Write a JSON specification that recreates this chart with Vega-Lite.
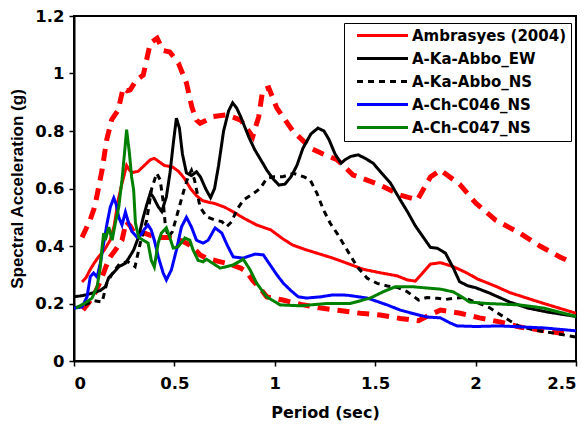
{
  "$schema": "https://vega.github.io/schema/vega-lite/v6.json",
  "width": 502,
  "height": 345,
  "autosize": {"type": "none"},
  "padding": {"left": 74, "top": 16, "right": 11, "bottom": 71},
  "background": "white",
  "datasets": {
    "main": [
      {"series":"Ambrasyes (2004)","period":0.04,"sa":0.275},{"series":"Ambrasyes (2004)","period":0.06,"sa":0.29},{"series":"Ambrasyes (2004)","period":0.08,"sa":0.317},{"series":"Ambrasyes (2004)","period":0.1,"sa":0.34},{"series":"Ambrasyes (2004)","period":0.12,"sa":0.36},{"series":"Ambrasyes (2004)","period":0.15,"sa":0.385},{"series":"Ambrasyes (2004)","period":0.18,"sa":0.42},{"series":"Ambrasyes (2004)","period":0.2,"sa":0.47},{"series":"Ambrasyes (2004)","period":0.22,"sa":0.56},{"series":"Ambrasyes (2004)","period":0.24,"sa":0.62},{"series":"Ambrasyes (2004)","period":0.262,"sa":0.68},{"series":"Ambrasyes (2004)","period":0.275,"sa":0.665},{"series":"Ambrasyes (2004)","period":0.29,"sa":0.655},{"series":"Ambrasyes (2004)","period":0.32,"sa":0.66},{"series":"Ambrasyes (2004)","period":0.35,"sa":0.68},{"series":"Ambrasyes (2004)","period":0.38,"sa":0.7},{"series":"Ambrasyes (2004)","period":0.4,"sa":0.705},{"series":"Ambrasyes (2004)","period":0.42,"sa":0.695},{"series":"Ambrasyes (2004)","period":0.45,"sa":0.68},{"series":"Ambrasyes (2004)","period":0.49,"sa":0.675},{"series":"Ambrasyes (2004)","period":0.52,"sa":0.66},{"series":"Ambrasyes (2004)","period":0.55,"sa":0.635},{"series":"Ambrasyes (2004)","period":0.58,"sa":0.6},{"series":"Ambrasyes (2004)","period":0.61,"sa":0.575},{"series":"Ambrasyes (2004)","period":0.64,"sa":0.558},{"series":"Ambrasyes (2004)","period":0.67,"sa":0.552},{"series":"Ambrasyes (2004)","period":0.7,"sa":0.548},{"series":"Ambrasyes (2004)","period":0.75,"sa":0.535},{"series":"Ambrasyes (2004)","period":0.79,"sa":0.52},{"series":"Ambrasyes (2004)","period":0.85,"sa":0.495},{"series":"Ambrasyes (2004)","period":0.91,"sa":0.473},{"series":"Ambrasyes (2004)","period":0.98,"sa":0.456},{"series":"Ambrasyes (2004)","period":1.04,"sa":0.425},{"series":"Ambrasyes (2004)","period":1.09,"sa":0.403},{"series":"Ambrasyes (2004)","period":1.15,"sa":0.388},{"series":"Ambrasyes (2004)","period":1.21,"sa":0.375},{"series":"Ambrasyes (2004)","period":1.28,"sa":0.36},{"series":"Ambrasyes (2004)","period":1.36,"sa":0.34},{"series":"Ambrasyes (2004)","period":1.44,"sa":0.319},{"series":"Ambrasyes (2004)","period":1.525,"sa":0.307},{"series":"Ambrasyes (2004)","period":1.61,"sa":0.296},{"series":"Ambrasyes (2004)","period":1.66,"sa":0.282},{"series":"Ambrasyes (2004)","period":1.7,"sa":0.278},{"series":"Ambrasyes (2004)","period":1.735,"sa":0.305},{"series":"Ambrasyes (2004)","period":1.775,"sa":0.337},{"series":"Ambrasyes (2004)","period":1.825,"sa":0.342},{"series":"Ambrasyes (2004)","period":1.89,"sa":0.328},{"series":"Ambrasyes (2004)","period":1.96,"sa":0.305},{"series":"Ambrasyes (2004)","period":2.01,"sa":0.285},{"series":"Ambrasyes (2004)","period":2.1,"sa":0.26},{"series":"Ambrasyes (2004)","period":2.17,"sa":0.238},{"series":"Ambrasyes (2004)","period":2.25,"sa":0.22},{"series":"Ambrasyes (2004)","period":2.34,"sa":0.2},{"series":"Ambrasyes (2004)","period":2.42,"sa":0.183},{"series":"Ambrasyes (2004)","period":2.5,"sa":0.166},

      {"series":"A-Ka-Abbo_EW","period":0,"sa":0.224},{"series":"A-Ka-Abbo_EW","period":0.03,"sa":0.226},{"series":"A-Ka-Abbo_EW","period":0.06,"sa":0.23},{"series":"A-Ka-Abbo_EW","period":0.1,"sa":0.238},{"series":"A-Ka-Abbo_EW","period":0.13,"sa":0.245},{"series":"A-Ka-Abbo_EW","period":0.156,"sa":0.258},{"series":"A-Ka-Abbo_EW","period":0.173,"sa":0.29},{"series":"A-Ka-Abbo_EW","period":0.2,"sa":0.31},{"series":"A-Ka-Abbo_EW","period":0.223,"sa":0.328},{"series":"A-Ka-Abbo_EW","period":0.256,"sa":0.34},{"series":"A-Ka-Abbo_EW","period":0.272,"sa":0.357},{"series":"A-Ka-Abbo_EW","period":0.297,"sa":0.386},{"series":"A-Ka-Abbo_EW","period":0.322,"sa":0.432},{"series":"A-Ka-Abbo_EW","period":0.345,"sa":0.5},{"series":"A-Ka-Abbo_EW","period":0.365,"sa":0.55},{"series":"A-Ka-Abbo_EW","period":0.38,"sa":0.584},{"series":"A-Ka-Abbo_EW","period":0.395,"sa":0.57},{"series":"A-Ka-Abbo_EW","period":0.42,"sa":0.536},{"series":"A-Ka-Abbo_EW","period":0.437,"sa":0.52},{"series":"A-Ka-Abbo_EW","period":0.46,"sa":0.571},{"series":"A-Ka-Abbo_EW","period":0.478,"sa":0.654},{"series":"A-Ka-Abbo_EW","period":0.495,"sa":0.76},{"series":"A-Ka-Abbo_EW","period":0.51,"sa":0.845},{"series":"A-Ka-Abbo_EW","period":0.525,"sa":0.81},{"series":"A-Ka-Abbo_EW","period":0.54,"sa":0.72},{"series":"A-Ka-Abbo_EW","period":0.56,"sa":0.654},{"series":"A-Ka-Abbo_EW","period":0.585,"sa":0.645},{"series":"A-Ka-Abbo_EW","period":0.61,"sa":0.658},{"series":"A-Ka-Abbo_EW","period":0.63,"sa":0.64},{"series":"A-Ka-Abbo_EW","period":0.655,"sa":0.6},{"series":"A-Ka-Abbo_EW","period":0.68,"sa":0.568},{"series":"A-Ka-Abbo_EW","period":0.7,"sa":0.6},{"series":"A-Ka-Abbo_EW","period":0.72,"sa":0.68},{"series":"A-Ka-Abbo_EW","period":0.745,"sa":0.8},{"series":"A-Ka-Abbo_EW","period":0.77,"sa":0.87},{"series":"A-Ka-Abbo_EW","period":0.79,"sa":0.898},{"series":"A-Ka-Abbo_EW","period":0.81,"sa":0.88},{"series":"A-Ka-Abbo_EW","period":0.83,"sa":0.85},{"series":"A-Ka-Abbo_EW","period":0.87,"sa":0.78},{"series":"A-Ka-Abbo_EW","period":0.9,"sa":0.735},{"series":"A-Ka-Abbo_EW","period":0.93,"sa":0.7},{"series":"A-Ka-Abbo_EW","period":0.96,"sa":0.664},{"series":"A-Ka-Abbo_EW","period":0.99,"sa":0.635},{"series":"A-Ka-Abbo_EW","period":1.02,"sa":0.612},{"series":"A-Ka-Abbo_EW","period":1.05,"sa":0.615},{"series":"A-Ka-Abbo_EW","period":1.08,"sa":0.64},{"series":"A-Ka-Abbo_EW","period":1.11,"sa":0.68},{"series":"A-Ka-Abbo_EW","period":1.14,"sa":0.74},{"series":"A-Ka-Abbo_EW","period":1.18,"sa":0.79},{"series":"A-Ka-Abbo_EW","period":1.215,"sa":0.81},{"series":"A-Ka-Abbo_EW","period":1.245,"sa":0.8},{"series":"A-Ka-Abbo_EW","period":1.27,"sa":0.77},{"series":"A-Ka-Abbo_EW","period":1.3,"sa":0.72},{"series":"A-Ka-Abbo_EW","period":1.33,"sa":0.688},{"series":"A-Ka-Abbo_EW","period":1.35,"sa":0.7},{"series":"A-Ka-Abbo_EW","period":1.38,"sa":0.712},{"series":"A-Ka-Abbo_EW","period":1.415,"sa":0.717},{"series":"A-Ka-Abbo_EW","period":1.45,"sa":0.705},{"series":"A-Ka-Abbo_EW","period":1.49,"sa":0.688},{"series":"A-Ka-Abbo_EW","period":1.53,"sa":0.655},{"series":"A-Ka-Abbo_EW","period":1.575,"sa":0.62},{"series":"A-Ka-Abbo_EW","period":1.625,"sa":0.56},{"series":"A-Ka-Abbo_EW","period":1.66,"sa":0.52},{"series":"A-Ka-Abbo_EW","period":1.7,"sa":0.47},{"series":"A-Ka-Abbo_EW","period":1.74,"sa":0.43},{"series":"A-Ka-Abbo_EW","period":1.775,"sa":0.395},{"series":"A-Ka-Abbo_EW","period":1.81,"sa":0.392},{"series":"A-Ka-Abbo_EW","period":1.85,"sa":0.375},{"series":"A-Ka-Abbo_EW","period":1.89,"sa":0.322},{"series":"A-Ka-Abbo_EW","period":1.92,"sa":0.276},{"series":"A-Ka-Abbo_EW","period":1.96,"sa":0.262},{"series":"A-Ka-Abbo_EW","period":2.0,"sa":0.255},{"series":"A-Ka-Abbo_EW","period":2.07,"sa":0.236},{"series":"A-Ka-Abbo_EW","period":2.17,"sa":0.205},{"series":"A-Ka-Abbo_EW","period":2.26,"sa":0.184},{"series":"A-Ka-Abbo_EW","period":2.36,"sa":0.17},{"series":"A-Ka-Abbo_EW","period":2.5,"sa":0.155},

      {"series":"A-Ka-Abbo_NS","period":0,"sa":0.185},{"series":"A-Ka-Abbo_NS","period":0.04,"sa":0.19},{"series":"A-Ka-Abbo_NS","period":0.07,"sa":0.2},{"series":"A-Ka-Abbo_NS","period":0.1,"sa":0.21},{"series":"A-Ka-Abbo_NS","period":0.14,"sa":0.205},{"series":"A-Ka-Abbo_NS","period":0.163,"sa":0.27},{"series":"A-Ka-Abbo_NS","period":0.196,"sa":0.31},{"series":"A-Ka-Abbo_NS","period":0.229,"sa":0.34},{"series":"A-Ka-Abbo_NS","period":0.27,"sa":0.345},{"series":"A-Ka-Abbo_NS","period":0.304,"sa":0.328},{"series":"A-Ka-Abbo_NS","period":0.33,"sa":0.41},{"series":"A-Ka-Abbo_NS","period":0.362,"sa":0.49},{"series":"A-Ka-Abbo_NS","period":0.387,"sa":0.6},{"series":"A-Ka-Abbo_NS","period":0.412,"sa":0.653},{"series":"A-Ka-Abbo_NS","period":0.429,"sa":0.63},{"series":"A-Ka-Abbo_NS","period":0.445,"sa":0.55},{"series":"A-Ka-Abbo_NS","period":0.455,"sa":0.47},{"series":"A-Ka-Abbo_NS","period":0.47,"sa":0.43},{"series":"A-Ka-Abbo_NS","period":0.49,"sa":0.45},{"series":"A-Ka-Abbo_NS","period":0.51,"sa":0.5},{"series":"A-Ka-Abbo_NS","period":0.53,"sa":0.55},{"series":"A-Ka-Abbo_NS","period":0.55,"sa":0.6},{"series":"A-Ka-Abbo_NS","period":0.568,"sa":0.64},{"series":"A-Ka-Abbo_NS","period":0.585,"sa":0.663},{"series":"A-Ka-Abbo_NS","period":0.6,"sa":0.63},{"series":"A-Ka-Abbo_NS","period":0.628,"sa":0.535},{"series":"A-Ka-Abbo_NS","period":0.66,"sa":0.502},{"series":"A-Ka-Abbo_NS","period":0.703,"sa":0.49},{"series":"A-Ka-Abbo_NS","period":0.736,"sa":0.485},{"series":"A-Ka-Abbo_NS","period":0.76,"sa":0.467},{"series":"A-Ka-Abbo_NS","period":0.786,"sa":0.485},{"series":"A-Ka-Abbo_NS","period":0.81,"sa":0.525},{"series":"A-Ka-Abbo_NS","period":0.844,"sa":0.56},{"series":"A-Ka-Abbo_NS","period":0.894,"sa":0.583},{"series":"A-Ka-Abbo_NS","period":0.927,"sa":0.6},{"series":"A-Ka-Abbo_NS","period":0.96,"sa":0.635},{"series":"A-Ka-Abbo_NS","period":0.994,"sa":0.641},{"series":"A-Ka-Abbo_NS","period":1.04,"sa":0.641},{"series":"A-Ka-Abbo_NS","period":1.093,"sa":0.653},{"series":"A-Ka-Abbo_NS","period":1.143,"sa":0.641},{"series":"A-Ka-Abbo_NS","period":1.176,"sa":0.63},{"series":"A-Ka-Abbo_NS","period":1.21,"sa":0.583},{"series":"A-Ka-Abbo_NS","period":1.243,"sa":0.525},{"series":"A-Ka-Abbo_NS","period":1.276,"sa":0.479},{"series":"A-Ka-Abbo_NS","period":1.31,"sa":0.444},{"series":"A-Ka-Abbo_NS","period":1.36,"sa":0.386},{"series":"A-Ka-Abbo_NS","period":1.41,"sa":0.328},{"series":"A-Ka-Abbo_NS","period":1.46,"sa":0.288},{"series":"A-Ka-Abbo_NS","period":1.51,"sa":0.27},{"series":"A-Ka-Abbo_NS","period":1.56,"sa":0.261},{"series":"A-Ka-Abbo_NS","period":1.61,"sa":0.256},{"series":"A-Ka-Abbo_NS","period":1.66,"sa":0.241},{"series":"A-Ka-Abbo_NS","period":1.716,"sa":0.212},{"series":"A-Ka-Abbo_NS","period":1.758,"sa":0.221},{"series":"A-Ka-Abbo_NS","period":1.81,"sa":0.218},{"series":"A-Ka-Abbo_NS","period":1.85,"sa":0.214},{"series":"A-Ka-Abbo_NS","period":1.89,"sa":0.218},{"series":"A-Ka-Abbo_NS","period":1.94,"sa":0.221},{"series":"A-Ka-Abbo_NS","period":1.98,"sa":0.21},{"series":"A-Ka-Abbo_NS","period":2.02,"sa":0.2},{"series":"A-Ka-Abbo_NS","period":2.07,"sa":0.185},{"series":"A-Ka-Abbo_NS","period":2.11,"sa":0.167},{"series":"A-Ka-Abbo_NS","period":2.17,"sa":0.14},{"series":"A-Ka-Abbo_NS","period":2.22,"sa":0.12},{"series":"A-Ka-Abbo_NS","period":2.29,"sa":0.108},{"series":"A-Ka-Abbo_NS","period":2.39,"sa":0.097},{"series":"A-Ka-Abbo_NS","period":2.5,"sa":0.083},

      {"series":"A-Ch-C046_NS","period":0,"sa":0.184},{"series":"A-Ch-C046_NS","period":0.04,"sa":0.188},{"series":"A-Ch-C046_NS","period":0.065,"sa":0.223},{"series":"A-Ch-C046_NS","period":0.081,"sa":0.293},{"series":"A-Ch-C046_NS","period":0.098,"sa":0.306},{"series":"A-Ch-C046_NS","period":0.115,"sa":0.292},{"series":"A-Ch-C046_NS","period":0.131,"sa":0.34},{"series":"A-Ch-C046_NS","period":0.148,"sa":0.41},{"series":"A-Ch-C046_NS","period":0.165,"sa":0.48},{"series":"A-Ch-C046_NS","period":0.181,"sa":0.536},{"series":"A-Ch-C046_NS","period":0.198,"sa":0.567},{"series":"A-Ch-C046_NS","period":0.21,"sa":0.545},{"series":"A-Ch-C046_NS","period":0.223,"sa":0.5},{"series":"A-Ch-C046_NS","period":0.239,"sa":0.473},{"series":"A-Ch-C046_NS","period":0.256,"sa":0.518},{"series":"A-Ch-C046_NS","period":0.272,"sa":0.48},{"series":"A-Ch-C046_NS","period":0.289,"sa":0.45},{"series":"A-Ch-C046_NS","period":0.314,"sa":0.43},{"series":"A-Ch-C046_NS","period":0.335,"sa":0.44},{"series":"A-Ch-C046_NS","period":0.352,"sa":0.46},{"series":"A-Ch-C046_NS","period":0.369,"sa":0.473},{"series":"A-Ch-C046_NS","period":0.385,"sa":0.455},{"series":"A-Ch-C046_NS","period":0.4,"sa":0.42},{"series":"A-Ch-C046_NS","period":0.42,"sa":0.362},{"series":"A-Ch-C046_NS","period":0.444,"sa":0.306},{"series":"A-Ch-C046_NS","period":0.46,"sa":0.282},{"series":"A-Ch-C046_NS","period":0.485,"sa":0.317},{"series":"A-Ch-C046_NS","period":0.51,"sa":0.386},{"series":"A-Ch-C046_NS","period":0.535,"sa":0.466},{"series":"A-Ch-C046_NS","period":0.56,"sa":0.5},{"series":"A-Ch-C046_NS","period":0.585,"sa":0.466},{"series":"A-Ch-C046_NS","period":0.61,"sa":0.42},{"series":"A-Ch-C046_NS","period":0.643,"sa":0.41},{"series":"A-Ch-C046_NS","period":0.668,"sa":0.42},{"series":"A-Ch-C046_NS","period":0.703,"sa":0.463},{"series":"A-Ch-C046_NS","period":0.736,"sa":0.445},{"series":"A-Ch-C046_NS","period":0.765,"sa":0.4},{"series":"A-Ch-C046_NS","period":0.793,"sa":0.362},{"series":"A-Ch-C046_NS","period":0.843,"sa":0.358},{"series":"A-Ch-C046_NS","period":0.902,"sa":0.372},{"series":"A-Ch-C046_NS","period":0.943,"sa":0.369},{"series":"A-Ch-C046_NS","period":0.977,"sa":0.334},{"series":"A-Ch-C046_NS","period":1.01,"sa":0.3},{"series":"A-Ch-C046_NS","period":1.043,"sa":0.27},{"series":"A-Ch-C046_NS","period":1.08,"sa":0.245},{"series":"A-Ch-C046_NS","period":1.117,"sa":0.223},{"series":"A-Ch-C046_NS","period":1.16,"sa":0.219},{"series":"A-Ch-C046_NS","period":1.226,"sa":0.223},{"series":"A-Ch-C046_NS","period":1.29,"sa":0.23},{"series":"A-Ch-C046_NS","period":1.36,"sa":0.229},{"series":"A-Ch-C046_NS","period":1.46,"sa":0.219},{"series":"A-Ch-C046_NS","period":1.56,"sa":0.195},{"series":"A-Ch-C046_NS","period":1.625,"sa":0.177},{"series":"A-Ch-C046_NS","period":1.7,"sa":0.163},{"series":"A-Ch-C046_NS","period":1.758,"sa":0.153},{"series":"A-Ch-C046_NS","period":1.825,"sa":0.15},{"series":"A-Ch-C046_NS","period":1.874,"sa":0.132},{"series":"A-Ch-C046_NS","period":1.908,"sa":0.122},{"series":"A-Ch-C046_NS","period":2.0,"sa":0.12},{"series":"A-Ch-C046_NS","period":2.12,"sa":0.122},{"series":"A-Ch-C046_NS","period":2.34,"sa":0.115},{"series":"A-Ch-C046_NS","period":2.5,"sa":0.105},

      {"series":"A-Ch-C047_NS","period":0.01,"sa":0.184},{"series":"A-Ch-C047_NS","period":0.056,"sa":0.202},{"series":"A-Ch-C047_NS","period":0.09,"sa":0.219},{"series":"A-Ch-C047_NS","period":0.115,"sa":0.258},{"series":"A-Ch-C047_NS","period":0.131,"sa":0.327},{"series":"A-Ch-C047_NS","period":0.14,"sa":0.397},{"series":"A-Ch-C047_NS","period":0.148,"sa":0.445},{"series":"A-Ch-C047_NS","period":0.156,"sa":0.42},{"series":"A-Ch-C047_NS","period":0.173,"sa":0.466},{"series":"A-Ch-C047_NS","period":0.19,"sa":0.42},{"series":"A-Ch-C047_NS","period":0.206,"sa":0.48},{"series":"A-Ch-C047_NS","period":0.223,"sa":0.536},{"series":"A-Ch-C047_NS","period":0.239,"sa":0.63},{"series":"A-Ch-C047_NS","period":0.253,"sa":0.734},{"series":"A-Ch-C047_NS","period":0.262,"sa":0.805},{"series":"A-Ch-C047_NS","period":0.276,"sa":0.723},{"series":"A-Ch-C047_NS","period":0.287,"sa":0.64},{"series":"A-Ch-C047_NS","period":0.297,"sa":0.595},{"series":"A-Ch-C047_NS","period":0.306,"sa":0.48},{"series":"A-Ch-C047_NS","period":0.322,"sa":0.43},{"series":"A-Ch-C047_NS","period":0.345,"sa":0.42},{"series":"A-Ch-C047_NS","period":0.369,"sa":0.41},{"series":"A-Ch-C047_NS","period":0.385,"sa":0.35},{"series":"A-Ch-C047_NS","period":0.4,"sa":0.327},{"series":"A-Ch-C047_NS","period":0.419,"sa":0.41},{"series":"A-Ch-C047_NS","period":0.435,"sa":0.445},{"series":"A-Ch-C047_NS","period":0.46,"sa":0.463},{"series":"A-Ch-C047_NS","period":0.477,"sa":0.43},{"series":"A-Ch-C047_NS","period":0.494,"sa":0.393},{"series":"A-Ch-C047_NS","period":0.518,"sa":0.397},{"series":"A-Ch-C047_NS","period":0.552,"sa":0.428},{"series":"A-Ch-C047_NS","period":0.577,"sa":0.42},{"series":"A-Ch-C047_NS","period":0.593,"sa":0.386},{"series":"A-Ch-C047_NS","period":0.618,"sa":0.35},{"series":"A-Ch-C047_NS","period":0.643,"sa":0.345},{"series":"A-Ch-C047_NS","period":0.66,"sa":0.354},{"series":"A-Ch-C047_NS","period":0.728,"sa":0.323},{"series":"A-Ch-C047_NS","period":0.793,"sa":0.334},{"series":"A-Ch-C047_NS","period":0.843,"sa":0.354},{"series":"A-Ch-C047_NS","period":0.877,"sa":0.317},{"series":"A-Ch-C047_NS","period":0.91,"sa":0.27},{"series":"A-Ch-C047_NS","period":0.96,"sa":0.223},{"series":"A-Ch-C047_NS","period":1.027,"sa":0.195},{"series":"A-Ch-C047_NS","period":1.127,"sa":0.192},{"series":"A-Ch-C047_NS","period":1.26,"sa":0.2},{"series":"A-Ch-C047_NS","period":1.376,"sa":0.2},{"series":"A-Ch-C047_NS","period":1.476,"sa":0.219},{"series":"A-Ch-C047_NS","period":1.54,"sa":0.241},{"series":"A-Ch-C047_NS","period":1.6,"sa":0.258},{"series":"A-Ch-C047_NS","period":1.69,"sa":0.258},{"series":"A-Ch-C047_NS","period":1.825,"sa":0.25},{"series":"A-Ch-C047_NS","period":1.89,"sa":0.24},{"series":"A-Ch-C047_NS","period":1.94,"sa":0.219},{"series":"A-Ch-C047_NS","period":1.97,"sa":0.205},{"series":"A-Ch-C047_NS","period":2.06,"sa":0.2},{"series":"A-Ch-C047_NS","period":2.22,"sa":0.195},{"series":"A-Ch-C047_NS","period":2.34,"sa":0.184},{"series":"A-Ch-C047_NS","period":2.5,"sa":0.155}
    ],
    "bounds": [
      {"bound":"upper","period":0.04,"sa":0.43},{"bound":"upper","period":0.06,"sa":0.46},{"bound":"upper","period":0.08,"sa":0.49},{"bound":"upper","period":0.1,"sa":0.53},{"bound":"upper","period":0.113,"sa":0.57},{"bound":"upper","period":0.13,"sa":0.63},{"bound":"upper","period":0.14,"sa":0.665},{"bound":"upper","period":0.163,"sa":0.77},{"bound":"upper","period":0.188,"sa":0.84},{"bound":"upper","period":0.22,"sa":0.873},{"bound":"upper","period":0.245,"sa":0.95},{"bound":"upper","period":0.265,"sa":0.94},{"bound":"upper","period":0.28,"sa":0.943},{"bound":"upper","period":0.31,"sa":0.977},{"bound":"upper","period":0.345,"sa":0.995},{"bound":"upper","period":0.38,"sa":1.106},{"bound":"upper","period":0.414,"sa":1.123},{"bound":"upper","period":0.444,"sa":1.08},{"bound":"upper","period":0.477,"sa":1.075},{"bound":"upper","period":0.52,"sa":1.036},{"bound":"upper","period":0.56,"sa":0.967},{"bound":"upper","period":0.587,"sa":0.883},{"bound":"upper","period":0.61,"sa":0.838},{"bound":"upper","period":0.628,"sa":0.827},{"bound":"upper","period":0.66,"sa":0.838},{"bound":"upper","period":0.69,"sa":0.85},{"bound":"upper","period":0.76,"sa":0.856},{"bound":"upper","period":0.83,"sa":0.838},{"bound":"upper","period":0.89,"sa":0.78},{"bound":"upper","period":0.92,"sa":0.85},{"bound":"upper","period":0.94,"sa":0.943},{"bound":"upper","period":0.97,"sa":0.95},{"bound":"upper","period":1.01,"sa":0.88},{"bound":"upper","period":1.09,"sa":0.8},{"bound":"upper","period":1.18,"sa":0.74},{"bound":"upper","period":1.24,"sa":0.72},{"bound":"upper","period":1.31,"sa":0.7},{"bound":"upper","period":1.39,"sa":0.647},{"bound":"upper","period":1.525,"sa":0.612},{"bound":"upper","period":1.625,"sa":0.577},{"bound":"upper","period":1.71,"sa":0.56},{"bound":"upper","period":1.775,"sa":0.64},{"bound":"upper","period":1.825,"sa":0.664},{"bound":"upper","period":1.92,"sa":0.615},{"bound":"upper","period":2.0,"sa":0.55},{"bound":"upper","period":2.1,"sa":0.49},{"bound":"upper","period":2.22,"sa":0.445},{"bound":"upper","period":2.32,"sa":0.4},{"bound":"upper","period":2.42,"sa":0.362},{"bound":"upper","period":2.47,"sa":0.345},

      {"bound":"lower","period":0.045,"sa":0.177},{"bound":"lower","period":0.07,"sa":0.2},{"bound":"lower","period":0.095,"sa":0.223},{"bound":"lower","period":0.12,"sa":0.26},{"bound":"lower","period":0.14,"sa":0.293},{"bound":"lower","period":0.16,"sa":0.33},{"bound":"lower","period":0.18,"sa":0.362},{"bound":"lower","period":0.206,"sa":0.386},{"bound":"lower","period":0.239,"sa":0.42},{"bound":"lower","period":0.26,"sa":0.485},{"bound":"lower","period":0.28,"sa":0.47},{"bound":"lower","period":0.3,"sa":0.445},{"bound":"lower","period":0.35,"sa":0.445},{"bound":"lower","period":0.41,"sa":0.43},{"bound":"lower","period":0.47,"sa":0.43},{"bound":"lower","period":0.53,"sa":0.42},{"bound":"lower","period":0.56,"sa":0.41},{"bound":"lower","period":0.59,"sa":0.397},{"bound":"lower","period":0.628,"sa":0.369},{"bound":"lower","period":0.66,"sa":0.357},{"bound":"lower","period":0.73,"sa":0.345},{"bound":"lower","period":0.76,"sa":0.34},{"bound":"lower","period":0.83,"sa":0.323},{"bound":"lower","period":0.86,"sa":0.31},{"bound":"lower","period":0.89,"sa":0.28},{"bound":"lower","period":0.93,"sa":0.25},{"bound":"lower","period":0.96,"sa":0.223},{"bound":"lower","period":1.04,"sa":0.212},{"bound":"lower","period":1.13,"sa":0.197},{"bound":"lower","period":1.23,"sa":0.184},{"bound":"lower","period":1.31,"sa":0.177},{"bound":"lower","period":1.426,"sa":0.166},{"bound":"lower","period":1.525,"sa":0.16},{"bound":"lower","period":1.625,"sa":0.148},{"bound":"lower","period":1.716,"sa":0.14},{"bound":"lower","period":1.77,"sa":0.16},{"bound":"lower","period":1.825,"sa":0.177},{"bound":"lower","period":1.924,"sa":0.166},{"bound":"lower","period":2.02,"sa":0.15},{"bound":"lower","period":2.12,"sa":0.136},{"bound":"lower","period":2.22,"sa":0.118},{"bound":"lower","period":2.32,"sa":0.108},{"bound":"lower","period":2.42,"sa":0.097},{"bound":"lower","period":2.47,"sa":0.093}
    ]
  },
  "layer": [
    {
      "data": {"name": "bounds"},
      "mark": {"type": "line", "color": "#ff0000", "strokeWidth": 5, "strokeDash": [12, 8]},
      "encoding": {
        "x": {"field": "period", "type": "quantitative"},
        "y": {"field": "sa", "type": "quantitative"},
        "detail": {"field": "bound", "type": "nominal"}
      }
    },
    {
      "data": {"name": "main"},
      "mark": {"type": "line"},
      "encoding": {
        "x": {
          "field": "period", "type": "quantitative",
          "scale": {"domain": [0, 2.5], "nice": false, "zero": false},
          "axis": {"values": [0, 0.5, 1, 1.5, 2, 2.5], "format": "~g", "title": "Period (sec)", "titlePadding": 13, "labelPadding": 9, "titleFont": "DejaVu Sans", "titleFontSize": 16}
        },
        "y": {
          "field": "sa", "type": "quantitative",
          "scale": {"domain": [0, 1.2], "nice": false},
          "axis": {"values": [0, 0.2, 0.4, 0.6, 0.8, 1, 1.2], "format": "~g", "title": "Spectral Acceleration (g)", "titlePadding": 8, "labelPadding": 5, "titleFont": "Liberation Sans", "titleFontSize": 17}
        },
        "color": {
          "field": "series", "type": "nominal",
          "scale": {"domain": ["Ambrasyes (2004)", "A-Ka-Abbo_EW", "A-Ka-Abbo_NS", "A-Ch-C046_NS", "A-Ch-C047_NS"], "range": ["#ff0000", "#000000", "#000000", "#0000ff", "#008000"]},
          "legend": {"title": null}
        },
        "strokeDash": {
          "field": "series", "type": "nominal",
          "scale": {"domain": ["Ambrasyes (2004)", "A-Ka-Abbo_EW", "A-Ka-Abbo_NS", "A-Ch-C046_NS", "A-Ch-C047_NS"], "range": [[1, 0], [1, 0], [6, 5], [1, 0], [1, 0]]},
          "legend": {"title": null}
        },
        "strokeWidth": {
          "field": "series", "type": "nominal",
          "scale": {"domain": ["Ambrasyes (2004)", "A-Ka-Abbo_EW", "A-Ka-Abbo_NS", "A-Ch-C046_NS", "A-Ch-C047_NS"], "range": [3, 3, 3, 0.9, 0.9]},
          "legend": {"title": null}
        }
      }
    }
  ],
  "config": {
    "view": {"stroke": "#000000", "strokeWidth": 2},
    "axis": {
      "grid": false,
      "domainColor": "#000000",
      "domainWidth": 2,
      "tickColor": "#000000",
      "tickWidth": 1.5,
      "tickSize": 5,
      "labelFont": "DejaVu Sans",
      "labelFontWeight": "bold",
      "labelFontSize": 16.5,
      "labelColor": "#000000",
      "titleFontWeight": "bold",
      "titleColor": "#000000"
    },
    "legend": {
      "orient": "none",
      "legendX": 270,
      "legendY": 7,
      "strokeColor": "#000000",
      "fillColor": "#ffffff",
      "padding": 5,
      "symbolType": "M-5,0H5",
      "symbolSize": 104,
      "symbolOffset": 26,
      "labelFont": "DejaVu Sans",
      "labelFontWeight": "bold",
      "labelFontSize": 15,
      "labelColor": "#000000",
      "labelLimit": 400,
      "labelOffset": 22,
      "rowPadding": 7
    }
  }
}
